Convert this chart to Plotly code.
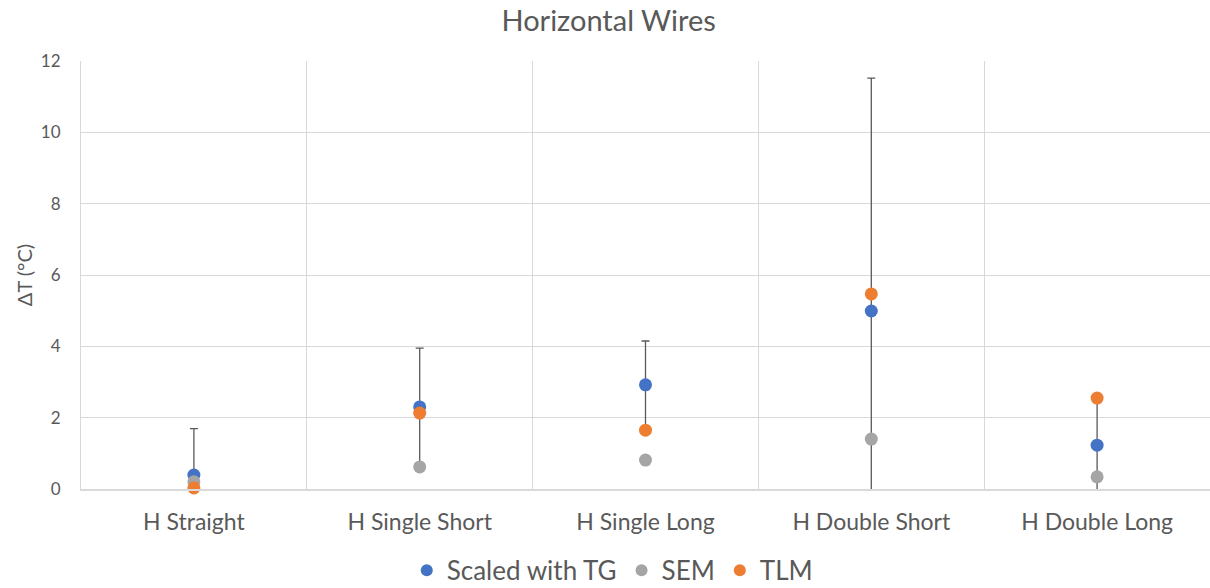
import plotly.graph_objects as go

categories = ["H Straight", "H Single Short", "H Single Long", "H Double Short", "H Double Long"]
scaled_tg = [0.39, 2.30, 2.92, 4.99, 1.23]
scaled_tg_err = [1.30, 1.65, 1.23, 6.53, 1.32]
sem = [0.20, 0.62, 0.81, 1.40, 0.34]
tlm = [0.03, 2.13, 1.65, 5.47, 2.55]
y_ticks = [0, 2, 4, 6, 8, 10, 12]

FONT = "Lato, 'Open Sans', sans-serif"
TEXT = "#595959"
GRID = "#d9d9d9"

fig = go.Figure()
fig.add_trace(go.Scatter(
    x=categories, y=scaled_tg, name="Scaled with TG", mode="markers",
    marker=dict(color="#4472C4", size=13),
    error_y=dict(type="data", array=scaled_tg_err, visible=True,
                 color="#595959", thickness=1.3, width=4),
))
fig.add_trace(go.Scatter(
    x=categories, y=sem, name="SEM", mode="markers",
    marker=dict(color="#A5A5A5", size=13), cliponaxis=False,
))
fig.add_trace(go.Scatter(
    x=categories, y=tlm, name="TLM", mode="markers",
    marker=dict(color="#ED7D31", size=13), cliponaxis=False,
))

fig.update_layout(
    width=1210, height=588,
    margin=dict(l=81, r=0, t=61, b=99, autoexpand=False),
    paper_bgcolor="white", plot_bgcolor="white",
    font=dict(family=FONT, color=TEXT, size=14),
    title=dict(text="Horizontal Wires", x=0.503, xanchor="center",
               y=0.965, yanchor="middle", font=dict(size=29, color=TEXT)),
    showlegend=True,
    legend=dict(orientation="h", xref="container", x=0.506, xanchor="center",
                yref="container", y=0.03, yanchor="middle",
                font=dict(size=26, color=TEXT),
                itemsizing="constant", traceorder="normal"),
    xaxis=dict(type="category", tickson="boundaries", showgrid=True,
               gridcolor=GRID, gridwidth=1, ticks="", showline=True,
               linecolor=GRID, linewidth=1.5,
               tickfont=dict(size=23, color=TEXT), ticklabelstandoff=12,
               range=[-0.5, 4.5]),
    yaxis=dict(range=[0, 12], tickvals=y_ticks, showgrid=True,
               gridcolor=GRID, gridwidth=1, zeroline=False,
               showline=True, linecolor=GRID, linewidth=1, ticks="",
               tickfont=dict(size=17, color=TEXT), ticklabelstandoff=16,
               title=dict(text="ΔT (°C)", font=dict(size=20, color=TEXT),
                          standoff=2)),
)

fig.write_html("out.html")
